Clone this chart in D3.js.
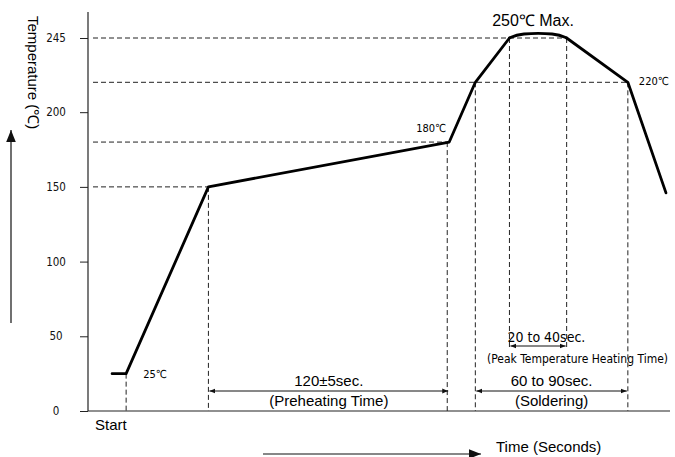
<!DOCTYPE html>
<html>
<head>
<meta charset="utf-8">
<script src="https://cdn.jsdelivr.net/npm/d3@7"></script>
<style>
  body { margin: 0; background: #fff; }
  svg { display: block; }
  .cond { font-family: "Liberation Sans Narrow", "DejaVu Sans Condensed", "Liberation Sans", sans-serif; }
  .reg { font-family: "Liberation Sans", Arial, sans-serif; }
</style>
</head>
<body>
<div id="chart"></div>
<script>
// reflow profile (time in seconds, temperature in C)
const profileTime = [12, 19, 60, 180, 193, 210, 215, 233.5, 238.5, 269, 288];
const profileTemp = [25, 25, 150, 180, 220, 245, 251, 251, 245, 220, 146];
// the rounded top runs between these two profile points
const peakStart = 5, peakEnd = 8;

// y axis ticks
const yTicks = [0, 50, 100, 150, 200, 245];

// horizontal guide levels and the time where each one meets the curve
const guideTemps = [150, 180, 220, 245];
const guideEnds = [60, 180, 269, 238.5];

// vertical guides dropped to the time axis
const dropTimes = [19, 60, 180, 193, 269];

// timed intervals
const spanFrom = [60, 193, 210];
const spanTo = [180, 269, 238.5];
const spanTop = ["120\u00b15sec.", "60 to 90sec.", "20 to 40sec."];
const spanBottom = ["(Preheating Time)", "(Soldering)", "(Peak Temperature Heating Time)"];

// point labels
const pointLabels = ["25\u2103", "180\u2103", "220\u2103", "250\u2103 Max."];

const W = 675, H = 457;
const svg = d3.select("#chart").append("svg")
    .attr("width", W).attr("height", H);

// schematic scales (the top of the temperature axis is stretched, as in the drawing)
const x = d3.scaleLinear().domain([0, 290]).range([88, 670]);
const y = d3.scaleLinear().domain([0, 220, 245, 250]).range([411, 82.3, 38, 34]);

// arrow markers
const defs = svg.append("defs");
function marker(id, size, orient) {
    defs.append("marker")
        .attr("id", id)
        .attr("viewBox", "0 0 10 10")
        .attr("refX", 10).attr("refY", 5)
        .attr("markerWidth", size).attr("markerHeight", size)
        .attr("markerUnits", "userSpaceOnUse")
        .attr("orient", orient)
        .append("path")
        .attr("d", "M0,1 L10,5 L0,9 Z")
        .attr("fill", "#111");
}
marker("tip", 6, "auto-start-reverse");
marker("bigtip", 12, "auto");

// horizontal dashed guides
svg.append("g").selectAll("line")
    .data(guideTemps)
    .join("line")
    .attr("x1", x(0) + 5)
    .attr("x2", (d, i) => x(guideEnds[i]))
    .attr("y1", d => y(d)).attr("y2", d => y(d))
    .attr("stroke", "#222").attr("stroke-width", 1)
    .attr("stroke-dasharray", "5,3");

// vertical dashed guides to the axis
svg.append("g").selectAll("line")
    .data(dropTimes)
    .join("line")
    .attr("x1", d => x(d) - (d === 180 ? 2 : 0))
    .attr("x2", d => x(d) - (d === 180 ? 2 : 0))
    .attr("y1", d => y(profileTemp[profileTime.indexOf(d)]))
    .attr("y2", y(0))
    .attr("stroke", "#222").attr("stroke-width", 1)
    .attr("stroke-dasharray", "5,3");

// peak guides stop at the peak interval arrow
const peakArrowY = 346;
svg.append("g").selectAll("line")
    .data([spanFrom[2], spanTo[2]])
    .join("line")
    .attr("x1", d => x(d)).attr("x2", d => x(d))
    .attr("y1", y(245)).attr("y2", peakArrowY + 2)
    .attr("stroke", "#222").attr("stroke-width", 1)
    .attr("stroke-dasharray", "5,3");

// axes
const yAxis = d3.axisLeft(y).tickValues(yTicks).tickSize(8).tickPadding(16).tickFormat(d => d);
const gy = svg.append("g").attr("transform", `translate(${x(0)},0)`).call(yAxis);
gy.select(".domain").remove();
gy.selectAll(".tick line").attr("stroke", "#222");
gy.selectAll(".tick text")
    .attr("class", "cond")
    .attr("text-anchor", "middle")
    .attr("x", -32)
    .attr("fill", "#111")
    .style("font-size", "11.5px");

svg.append("line")
    .attr("x1", x(0)).attr("x2", x(0))
    .attr("y1", 12).attr("y2", y(0))
    .attr("stroke", "#222").attr("stroke-width", 1.2);
svg.append("line")
    .attr("x1", x(0)).attr("x2", x.range()[1])
    .attr("y1", y(0)).attr("y2", y(0))
    .attr("stroke", "#222").attr("stroke-width", 1.2);

// profile curve: straight ramps, rounded top
const idx = d3.range(profileTime.length);
const straight = d3.line()
    .x(i => x(profileTime[i]))
    .y(i => y(profileTemp[i]));
const rounded = d3.line()
    .curve(d3.curveBasis)
    .x(i => x(profileTime[i]))
    .y(i => y(profileTemp[i]));
const parts = [
    [straight, idx.slice(0, peakStart + 1)],
    [rounded, idx.slice(peakStart, peakEnd + 1)],
    [straight, idx.slice(peakEnd)]
];
svg.append("g").selectAll("path")
    .data(parts)
    .join("path")
    .attr("fill", "none")
    .attr("stroke", "#000")
    .attr("stroke-width", 2.8)
    .attr("stroke-linejoin", "round")
    .attr("stroke-linecap", "round")
    .attr("d", d => d[0](d[1]));

// interval arrows and labels
const spanY = [391, 391, peakArrowY];
spanFrom.forEach((f, i) => {
    const peak = i === 2;
    svg.append("line")
        .attr("x1", x(f) + 1).attr("x2", x(spanTo[i]) - 1)
        .attr("y1", spanY[i]).attr("y2", spanY[i])
        .attr("stroke", "#111").attr("stroke-width", 1)
        .attr("marker-start", "url(#tip)")
        .attr("marker-end", "url(#tip)");
    const cx = (x(f) + x(spanTo[i])) / 2;
    if (peak) {
        svg.append("text").attr("class", "cond")
            .attr("x", x(f) - 2).attr("y", spanY[i] - 4)
            .style("font-size", "14px")
            .text(spanTop[i]);
        svg.append("text").attr("class", "cond")
            .attr("x", 487).attr("y", spanY[i] + 17)
            .attr("textLength", 181).attr("lengthAdjust", "spacingAndGlyphs")
            .style("font-size", "11.5px")
            .text(spanBottom[i]);
    } else {
        svg.append("text").attr("class", "reg")
            .attr("x", cx).attr("y", spanY[i] - 5)
            .attr("text-anchor", "middle")
            .style("font-size", "15px")
            .text(spanTop[i]);
        svg.append("text").attr("class", "reg")
            .attr("x", cx).attr("y", spanY[i] + 15)
            .attr("text-anchor", "middle")
            .style("font-size", "15px")
            .text(spanBottom[i]);
    }
});

// point labels
svg.append("text").attr("class", "cond")
    .attr("x", x(profileTime[1]) + 17).attr("y", y(25) + 4)
    .style("font-size", "11px").text(pointLabels[0]);
svg.append("text").attr("class", "cond")
    .attr("x", x(180) - 3).attr("y", y(180) - 10)
    .attr("text-anchor", "end")
    .style("font-size", "11px").text(pointLabels[1]);
svg.append("text").attr("class", "cond")
    .attr("x", x(269) + 11).attr("y", y(220) + 3)
    .style("font-size", "11px").text(pointLabels[2]);
svg.append("text").attr("class", "reg")
    .attr("x", (x(spanFrom[2]) + x(spanTo[2])) / 2 - 5).attr("y", 26)
    .attr("text-anchor", "middle")
    .style("font-size", "16px").text(pointLabels[3]);

// axis titles
svg.append("text").attr("class", "reg")
    .attr("transform", "translate(28,16) rotate(90)")
    .style("font-size", "15px")
    .text("Temperature (\u2103)");
svg.append("line")
    .attr("x1", 11).attr("x2", 11)
    .attr("y1", 323).attr("y2", 130)
    .attr("stroke", "#111").attr("stroke-width", 1.2)
    .attr("marker-end", "url(#bigtip)");

svg.append("text").attr("class", "reg")
    .attr("x", 95).attr("y", 430)
    .style("font-size", "15px").text("Start");

svg.append("line")
    .attr("x1", 263).attr("x2", 481)
    .attr("y1", 454).attr("y2", 454)
    .attr("stroke", "#111").attr("stroke-width", 1.2)
    .attr("marker-end", "url(#bigtip)");
svg.append("text").attr("class", "reg")
    .attr("x", 496).attr("y", 452)
    .style("font-size", "15px").text("Time (Seconds)");
</script>
</body>
</html>
